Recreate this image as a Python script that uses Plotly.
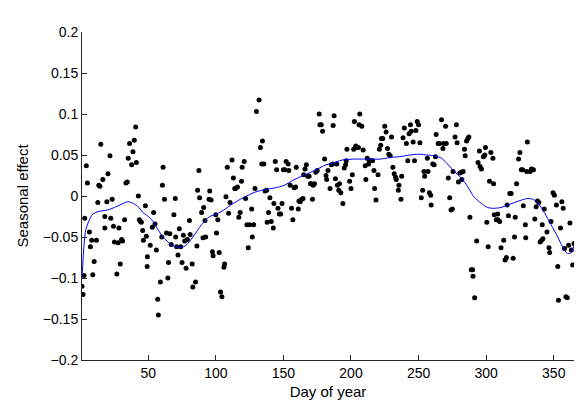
import plotly.graph_objects as go

# Observed points (day of year, seasonal effect)
day = [1, 1.8, 2.5, 3.0, 4.2, 5.0, 6.5, 7.2, 8.2, 9, 10, 11.7, 12.7, 13.4, 14.2, 14.9, 16.4, 17.9, 17.9, 19.4,
       20.2, 21.7, 22.3, 23.3, 24.3, 25, 26.8, 27.8, 28.3, 29.3, 30.3, 31, 32.5, 33.5, 34.5, 35.2, 36.2, 37.7, 38.7, 39.7,
       40.7, 41.2, 42.7, 43.4, 44.2, 44.9, 45.9, 46.4, 47.9, 48.6, 49.4, 49.2,
       51.5, 53, 54, 55, 56, 57, 57.5, 59, 60, 60.5, 61, 62, 63.5, 64.5, 65, 66, 67, 69, 70, 70.3, 71, 72, 73, 74, 75,
       76, 77, 78, 79, 80.5, 81, 82.5, 83, 85, 86, 86.5, 87.5, 88, 89.5, 90.5, 91, 92, 92.5, 95, 95.5, 96.5, 97.5, 98,
       100, 100.5, 101.5, 102.5, 103.5, 104.5, 106, 106.5, 107.5, 108.5, 109.5, 110.5, 112, 113, 114, 114.5, 116, 117,
       118, 119, 119.5,
       121, 122, 123, 124, 125, 126.5, 127, 128, 129, 130, 132, 133, 134, 134.5, 135.5, 136.5, 137.5, 138, 139, 140,
       141, 142.5, 143, 144, 145, 146, 147, 148, 149, 150, 151, 152, 153.5, 154, 155, 156, 157, 158, 159, 159.5, 161,
       161.5, 162.5, 163.5, 164.5, 165, 166, 167, 168, 169, 170, 170.5, 171.5, 172, 173, 174, 175, 176.5, 177, 178,
       179, 180.5, 181.5, 182, 183, 184.5, 185.5, 186.5, 186.8, 187.5, 188.5, 189.5, 190, 191, 191.5,
       192.5, 194, 195, 196, 196.5, 197, 199, 200, 201, 202, 202.5, 203.5, 204.5, 205.5, 206, 206.5, 208, 209, 210.5,
       211, 212, 213, 213.5, 214.5, 216, 217, 217.5, 218.5, 220, 221, 222, 222.5, 223.5, 225, 226, 227, 228, 229, 230,
       231, 232, 233, 233.5, 235, 235.5, 237, 237.5, 238.5, 239.5, 241, 242, 243, 244, 244.5, 246, 247, 248, 249, 250,
       251, 252, 253, 254, 254.5, 256.5, 257, 258, 259, 259.3, 260.5,
       261.5, 262.5, 263, 264.5, 265.5, 267, 268, 268.5, 270, 270.5, 272, 273, 274, 275, 275.5, 277, 278, 278.5, 279.5,
       280.5, 281.5, 282, 283, 284, 284.5, 285.5, 286.5, 287.2, 288, 289, 290, 290.3, 291.5, 293, 294, 295, 295.5,
       296.5, 298, 299, 299.5, 300.5, 301.5, 302.5, 303.5, 305, 305.5, 306, 307.5, 308.5, 308.8, 310, 311, 313, 314,
       315, 315.5, 316.5, 317.5, 318.5, 320, 321, 321.5, 322.5, 324, 325, 326, 327, 327.5, 329, 329.3, 330, 330.5,
       332.5, 333.5, 334, 335, 336, 337, 338, 339, 340, 341, 341.5, 342, 343, 345, 346.5, 347, 348, 349.5, 350.5, 352,
       353, 353.5, 355, 356, 357, 358, 359, 360, 361, 362, 363, 364, 365]

effect = [-0.110, -0.120, -0.097, -0.027, 0.037, 0.016, -0.044, -0.062, -0.054, -0.096, -0.080, -0.054, -0.008,
          0.013, 0.012, 0.063, 0.020, -0.025, -0.039, -0.007, 0.027, 0.049, -0.027, -0.004, -0.037, -0.056, -0.095,
          -0.057, -0.039, -0.083, -0.053, -0.055, -0.029, 0.016, 0.017, 0.046, 0.064, 0.038, 0.054, 0.068, 0.084,
          0.041, 0.000, -0.029, -0.031, -0.032, -0.042, -0.054, -0.012, -0.049, -0.074, -0.086,
          -0.060, -0.038, -0.020, -0.034, -0.066, -0.126, -0.145, -0.105, -0.050, 0.013, 0.035, -0.004, -0.045,
          -0.100, -0.081, -0.046, -0.059, -0.023, -0.003, -0.050, -0.062, -0.072, -0.040, -0.062, -0.081, -0.048,
          -0.055, -0.088, -0.053, -0.030, -0.047, -0.083, -0.111, -0.105, -0.061, 0.007, 0.031, -0.002, -0.020,
          -0.051, -0.014, -0.030, -0.050, -0.004, 0.006, -0.005, -0.068, -0.073, -0.023, -0.045, -0.029, -0.069,
          -0.117, -0.123, -0.087, -0.083, -0.001, 0.035, -0.021, -0.008, 0.044, 0.022, 0.009, 0.009, 0.011, -0.026,
          -0.020, 0.018, 0.035,
          0.042, -0.003, -0.035, -0.063, -0.035, -0.016, -0.050, -0.035, 0.009, 0.103, 0.117, 0.059, 0.039, 0.067,
          0.039, 0.006, 0.007, -0.032, -0.020, -0.002, -0.031, -0.039, -0.009, 0.042, 0.032, -0.015, -0.022, -0.022,
          -0.009, 0.032, 0.032, 0.042, 0.039, 0.031, 0.013, -0.015, -0.029, 0.010, 0.011, 0.035, -0.016, -0.006,
          -0.007, -0.004, -0.003, 0.026, 0.033, 0.038, 0.024, 0.024, 0.015, 0.015, -0.004, 0.013, 0.015, 0.029,
          0.031, 0.100, 0.087, 0.087, 0.079, 0.045, 0.025, 0.020, 0.031, 0.009, 0.038, 0.039, 0.086, 0.098, 0.021,
          0.039, 0.013, 0.007, 0.015,
          0.004, -0.009, 0.034, 0.038, 0.043, 0.057, 0.018, 0.009, 0.026, 0.057, 0.091, 0.061, 0.059, 0.059, 0.087,
          0.100, 0.085, 0.056, 0.037, 0.020, 0.046, 0.039, 0.043, 0.043, 0.043, 0.031, 0.009, -0.005, 0.026, 0.057,
          0.062, 0.070, 0.070, 0.085, 0.078, 0.058, 0.051, 0.049, 0.072, 0.035, 0.027, 0.023, 0.020, 0.007, 0.013,
          -0.004, 0.024, 0.071, 0.083, 0.064, 0.043, 0.076, 0.087, 0.079, 0.066, 0.043, 0.080, 0.091, 0.087, 0.065,
          -0.002, 0.007, 0.030, 0.024, 0.046, 0.030, 0.004, 0.001, -0.011, 0.039,
          0.038, 0.048, 0.075, 0.064, 0.064, 0.093, 0.058, 0.064, 0.085, 0.064, 0.022, -0.002, -0.017, -0.016, 0.030,
          0.072, 0.087, 0.065, 0.017, 0.028, 0.029, 0.020, 0.030, 0.057, 0.049, 0.067, 0.070, 0.072, -0.026, -0.090,
          -0.090, -0.098, -0.124, -0.055, 0.041, 0.055, 0.036, 0.033, 0.048, 0.050, 0.059, -0.032, -0.062, 0.018,
          0.053, 0.046, 0.015, -0.023, -0.029, -0.022, -0.029, -0.031, -0.063, -0.054, -0.078, -0.075, -0.011, -0.024,
          0.003, 0.003, -0.076, -0.050, -0.026, 0.015, 0.045, 0.053, 0.032, 0.032, -0.012, -0.035, -0.051, 0.030,
          0.066,
          0.030, 0.033, 0.032, 0.032, -0.028, -0.013, -0.006, -0.008, -0.056, -0.054, -0.035, -0.052, -0.016, -0.044,
          -0.063, -0.069, -0.031, 0.004, 0.001, -0.011, -0.086, -0.127, -0.039, -0.007, -0.015, -0.064, -0.123,
          -0.124, -0.060, -0.033, -0.066, -0.084, -0.058]

# Fitted smooth seasonal curve
curve_day = [1, 2.5, 4, 9, 13, 20, 25, 33, 35, 39, 43, 46, 51.5, 55, 60, 64, 67, 71, 74.5, 78, 83, 89.5, 95.5,
             100.5, 106, 111, 116, 120.5, 129.5, 137, 144, 150.5, 157, 162, 169, 176.5, 181.5, 186.5, 191.5, 194,
             202, 211.5, 221.5, 229, 236, 243.5, 251, 256, 262, 267, 272, 276.5, 281.5, 286.5, 291, 296.5, 301, 306,
             311, 316, 321, 326, 331, 334.5, 338, 343, 348, 353, 356.5, 360, 363, 365]
curve_effect = [-0.100, -0.060, -0.040, -0.022, -0.019, -0.017, -0.014, -0.008, -0.007, -0.009, -0.014, -0.020,
                -0.027, -0.035, -0.048, -0.055, -0.060, -0.062, -0.063, -0.060, -0.050, -0.035, -0.025, -0.022,
                -0.017, -0.011, -0.006, -0.002, 0.005, 0.008, 0.010, 0.013, 0.019, 0.023, 0.028, 0.034, 0.038,
                0.040, 0.043, 0.044, 0.045, 0.045, 0.045, 0.047, 0.048, 0.050, 0.051, 0.050, 0.049, 0.046, 0.038,
                0.030, 0.022, 0.011, -0.001, -0.009, -0.014, -0.015, -0.014, -0.011, -0.008, -0.005, -0.003,
                -0.004, -0.008, -0.020, -0.035, -0.050, -0.062, -0.070, -0.069, -0.060]

x_ticks = [50, 100, 150, 200, 250, 300, 350]
y_ticks = [-0.2, -0.15, -0.1, -0.05, 0, 0.05, 0.1, 0.15, 0.2]
y_ticktext = ["\u22120.2", "\u22120.15", "\u22120.1", "\u22120.05", "0", "0.05", "0.1", "0.15", "0.2"]

FONT = "Liberation Sans, Arial, Helvetica, sans-serif"

fig = go.Figure()
fig.add_trace(go.Scatter(x=day, y=effect, mode="markers",
                         marker=dict(color="black", size=5, line=dict(width=0)),
                         showlegend=False, hoverinfo="x+y"))
fig.add_trace(go.Scatter(x=curve_day, y=curve_effect, mode="lines",
                         line=dict(color="#0000ff", width=1, shape="spline", smoothing=0.8),
                         showlegend=False))

axis_common = dict(showline=True, linecolor="#262626", linewidth=1, ticks="inside", ticklen=5,
                   tickcolor="#262626", tickwidth=1, showgrid=False, zeroline=False, mirror=False,
                   tickfont=dict(family=FONT, size=14, color="black"))

fig.update_xaxes(range=[1, 365], tickvals=x_ticks,
                 title=dict(text="Day of year", font=dict(family=FONT, size=15, color="black"), standoff=6),
                 **axis_common)
fig.update_yaxes(range=[-0.2, 0.2], tickvals=y_ticks, ticktext=y_ticktext,
                 title=dict(text="Seasonal effect", font=dict(family=FONT, size=15, color="black"), standoff=10),
                 **axis_common)

fig.update_layout(width=582, height=402, margin=dict(l=73.5, r=15.5, t=24, b=49.5, autoexpand=False),
                  paper_bgcolor="white", plot_bgcolor="white",
                  font=dict(family=FONT, color="black"))

fig.write_html("out.html")
